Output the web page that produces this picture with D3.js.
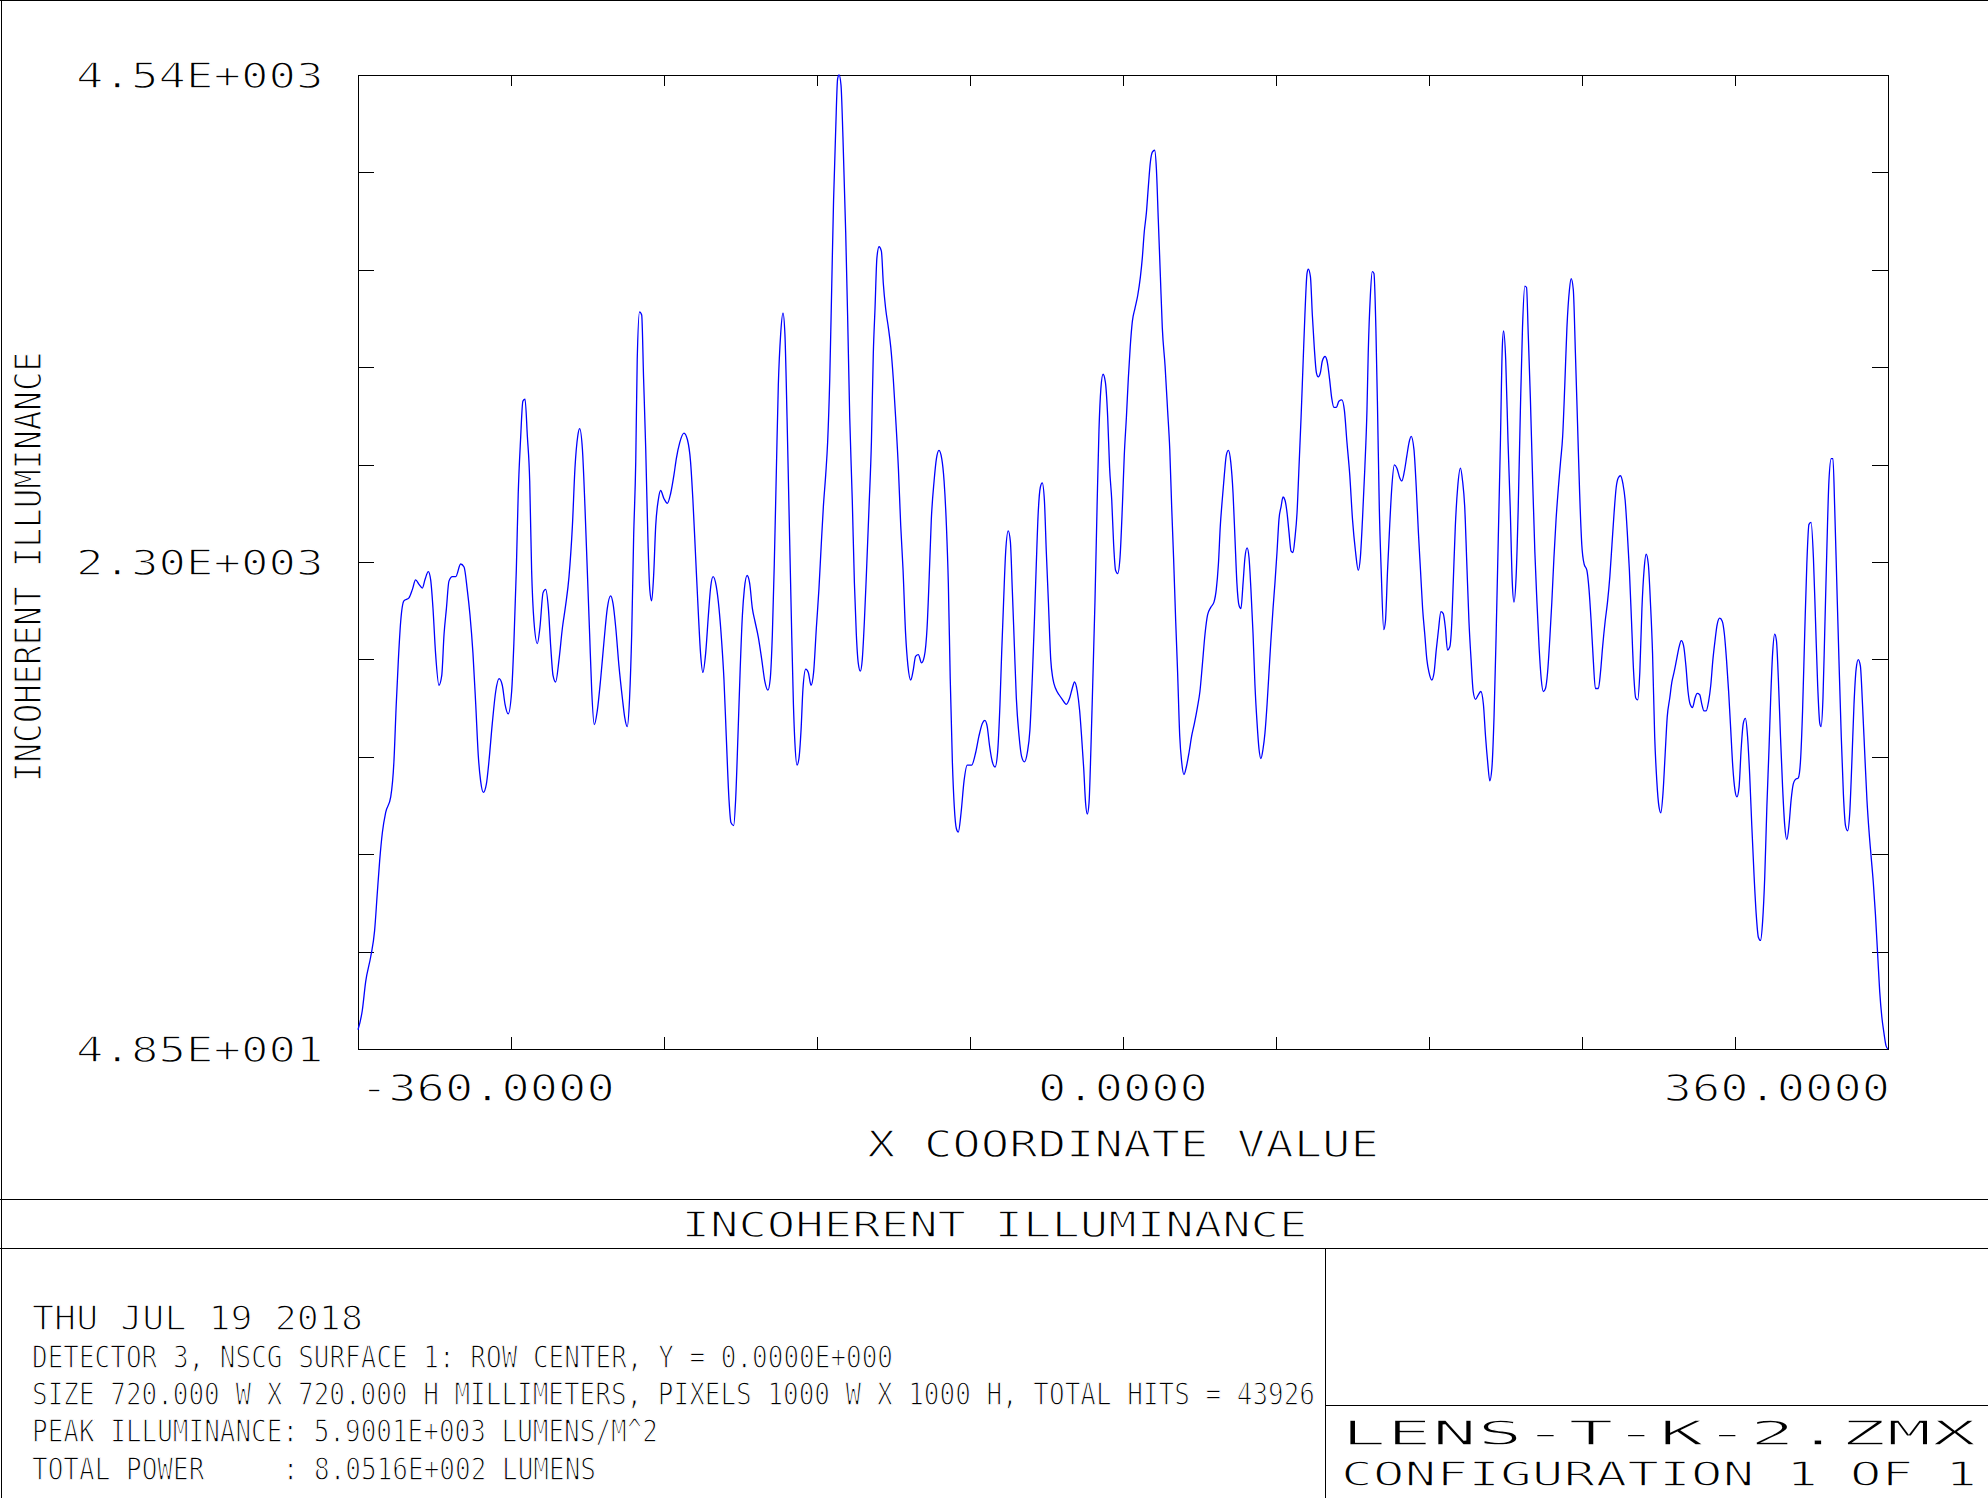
<!DOCTYPE html>
<html><head><meta charset="utf-8">
<script src="https://cdn.jsdelivr.net/npm/d3@7"></script>
<style>html,body{margin:0;padding:0;background:#fff;} svg{display:block;}</style>
</head><body>
<script>
// ---- data (X coordinate in mm, incoherent illuminance) ----
const xPos = [-360.0,-358.0,-356.4,-354.0,-352.2,-350.9,-349.8,-348.5,-347.0,-344.6,-343.1,-342.0,-341.0,-339.9,-338.4,-336.0,-334.4,-332.9,-331.3,-329.7,-328.5,-326.9,-325.8,-324.7,-323.5,-321.9,-320.6,-319.5,-318.4,-317.2,-315.6,-314.0,-311.7,-310.1,-308.6,-307.3,-305.9,-304.6,-303.4,-302.3,-301.0,-299.6,-298.4,-296.8,-295.2,-293.6,-292.1,-290.8,-289.3,-287.7,-286.6,-285.5,-284.6,-283.5,-282.4,-281.4,-280.3,-279.2,-278.3,-277.2,-275.6,-274.4,-272.9,-271.7,-270.4,-269.3,-268.2,-267.0,-265.4,-263.8,-262.3,-260.7,-259.1,-257.9,-256.6,-255.7,-254.4,-253.2,-252.1,-251.0,-250.0,-248.8,-247.4,-245.8,-244.2,-242.7,-241.1,-240.0,-238.7,-237.2,-235.6,-234.5,-233.3,-232.2,-231.2,-230.3,-229.3,-228.6,-227.5,-226.5,-225.6,-224.6,-223.5,-222.7,-221.8,-220.9,-219.9,-218.7,-217.6,-216.0,-214.4,-212.9,-211.3,-210.2,-208.6,-206.6,-205.0,-203.5,-202.4,-201.1,-199.8,-198.8,-197.7,-196.4,-195.1,-194.0,-192.9,-191.4,-190.1,-188.9,-187.8,-186.7,-185.4,-184.5,-183.2,-182.3,-181.2,-180.2,-179.1,-178.2,-176.9,-175.7,-174.4,-173.2,-171.6,-170.0,-168.5,-167.1,-166.0,-165.0,-164.1,-163.1,-162.2,-161.1,-160.0,-159.1,-158.1,-157.2,-156.1,-155.1,-154.4,-153.4,-152.5,-151.5,-150.6,-149.3,-148.1,-146.8,-145.6,-144.3,-143.1,-142.0,-141.0,-139.9,-139.0,-138.0,-137.1,-136.2,-135.2,-134.3,-133.6,-132.7,-131.8,-130.5,-129.6,-128.6,-127.4,-126.4,-125.5,-124.6,-123.6,-122.7,-121.7,-120.8,-119.5,-118.4,-117.5,-116.7,-115.8,-114.8,-113.7,-112.8,-111.7,-110.4,-109.3,-108.1,-107.0,-105.7,-104.6,-103.5,-102.3,-101.2,-99.9,-98.8,-97.6,-96.3,-94.8,-93.5,-92.2,-91.3,-90.2,-88.9,-87.8,-86.6,-85.3,-84.2,-83.1,-82.2,-81.3,-80.3,-79.4,-78.4,-77.5,-76.2,-74.8,-73.3,-71.2,-69.3,-67.8,-66.2,-65.0,-63.9,-62.8,-61.5,-60.2,-59.0,-57.9,-57.1,-56.2,-55.2,-54.0,-53.0,-52.1,-51.1,-50.2,-48.9,-47.7,-46.4,-45.0,-43.8,-42.7,-41.7,-40.8,-39.9,-38.9,-38.0,-37.0,-36.1,-35.1,-34.0,-33.0,-31.7,-30.1,-28.6,-26.7,-25.1,-23.9,-22.8,-21.5,-20.4,-19.5,-18.5,-17.6,-16.8,-16.0,-15.1,-14.1,-13.2,-12.2,-11.3,-10.4,-9.4,-8.3,-7.2,-6.3,-5.3,-4.4,-3.5,-2.5,-1.4,-0.3,0.6,1.6,2.5,3.4,4.4,5.6,6.9,8.2,9.1,10.0,11.0,11.9,12.9,13.8,14.9,15.7,16.6,17.6,18.5,19.8,21.0,22.0,22.9,23.8,24.8,25.7,26.7,27.6,28.7,29.8,31.1,32.3,33.6,35.0,36.2,37.3,38.6,39.8,41.3,42.8,43.9,44.9,45.8,46.7,47.7,48.6,49.6,50.7,51.8,52.7,53.6,54.6,55.5,56.5,57.4,58.4,59.3,60.2,61.2,62.1,63.1,64.0,64.9,65.9,66.8,67.8,68.7,69.6,70.6,71.5,72.5,73.4,74.4,75.3,76.2,77.2,78.1,79.1,80.0,80.9,81.9,82.8,83.8,84.7,85.6,86.6,87.2,88.2,89.1,90.0,91.0,91.9,92.9,93.8,95.1,96.2,97.2,98.2,99.3,100.4,101.6,103.0,104.2,105.4,106.7,108.0,109.4,110.7,111.7,112.7,113.8,114.8,115.4,116.4,117.3,118.1,119.0,119.8,120.6,121.5,122.7,123.5,124.5,125.5,126.5,127.7,128.9,130.2,131.2,132.4,133.6,134.6,135.6,136.9,138.0,139.0,140.0,141.0,142.0,143.0,144.0,145.3,146.4,147.4,148.4,149.6,150.7,151.7,152.7,153.8,154.6,155.4,156.4,157.5,158.8,159.8,160.8,161.8,162.8,163.8,164.8,165.9,167.2,168.4,169.6,170.6,171.6,172.6,173.6,174.6,175.6,176.6,177.6,178.5,179.1,180.1,181.2,182.2,183.2,184.0,185.0,186.0,187.0,188.0,189.1,189.9,190.7,191.7,192.7,193.8,194.8,195.8,196.8,197.8,198.8,199.8,200.8,201.8,202.8,203.8,204.9,205.9,206.9,207.9,208.9,210.1,210.9,211.9,212.9,213.9,214.9,215.9,217.0,218.3,219.3,220.3,221.3,222.3,223.7,224.7,225.7,226.9,228.0,229.1,230.1,231.1,232.1,233.1,234.1,235.3,236.3,237.3,238.3,239.3,240.3,241.3,242.2,243.2,244.2,245.2,246.2,247.2,248.2,249.2,250.2,251.2,252.2,253.1,254.1,255.1,256.1,257.3,258.3,259.3,260.5,261.7,262.7,263.8,264.9,265.9,266.9,268.0,269.2,270.2,271.4,272.4,273.4,274.4,275.6,276.6,277.6,278.6,279.6,280.8,282.0,283.0,284.0,285.0,286.0,287.0,288.0,288.9,289.9,290.9,291.9,292.9,293.9,294.9,295.9,297.0,298.0,299.0,300.0,301.0,302.0,303.0,304.0,304.8,305.7,306.7,307.5,308.4,309.4,310.4,311.4,312.4,313.4,314.4,315.4,316.4,317.8,318.8,319.8,320.8,321.8,322.8,323.8,324.9,325.9,326.9,327.9,328.5,329.4,330.2,331.2,332.2,333.3,334.1,334.9,335.9,337.0,338.0,339.0,340.0,341.0,342.0,343.0,344.0,345.0,346.0,347.0,348.0,349.1,350.1,351.1,352.1,353.1,354.1,355.1,356.1,357.1,358.1,359.1,360.0];
const illuminance = [137,225,358,475,593,770,917,1049,1138,1211,1373,1638,1844,2021,2115,2129,2168,2212,2191,2174,2212,2250,2212,2079,1873,1726,1770,1962,2079,2206,2227,2227,2285,2271,2168,2050,1873,1638,1402,1285,1232,1270,1373,1550,1697,1756,1726,1638,1594,1697,1932,2256,2609,2859,3036,3045,2874,2668,2256,2021,1918,1991,2153,2168,2079,1903,1770,1741,1844,1991,2094,2227,2462,2727,2874,2909,2815,2550,2256,1962,1697,1544,1608,1756,1932,2079,2138,2103,1991,1815,1667,1579,1535,1667,1962,2403,2756,3227,3448,3433,3139,2815,2374,2168,2115,2227,2462,2580,2624,2586,2565,2609,2697,2771,2845,2889,2859,2756,2580,2315,2050,1873,1785,1873,2050,2182,2227,2182,2079,1932,1756,1491,1196,1093,1079,1196,1491,1785,2050,2168,2232,2197,2079,2021,1947,1844,1741,1703,1756,1962,2285,2727,3110,3345,3442,3345,2962,2550,2050,1638,1461,1358,1388,1520,1711,1800,1785,1726,1785,1991,2168,2374,2550,2697,2845,3139,3551,3963,4287,4522,4540,4493,4257,3816,3433,2962,2580,2197,1962,1829,1791,1844,2021,2227,2550,2845,3257,3463,3698,3748,3728,3580,3463,3374,3286,3139,2962,2727,2462,2256,1962,1815,1750,1791,1859,1867,1829,1859,1991,2197,2491,2668,2771,2809,2771,2668,2462,2197,1756,1373,1167,1064,1049,1138,1285,1358,1358,1417,1491,1550,1564,1535,1447,1373,1349,1417,1638,1873,2109,2344,2438,2388,2168,1903,1667,1491,1397,1373,1417,1520,1756,2021,2285,2521,2639,2659,2580,2344,2109,1844,1756,1711,1682,1661,1638,1667,1711,1741,1697,1608,1491,1344,1182,1132,1182,1432,1785,2109,2550,2904,3095,3160,3124,2962,2727,2580,2374,2256,2241,2315,2550,2786,2962,3139,3286,3404,3463,3522,3610,3698,3816,3904,4022,4140,4184,4193,4110,3875,3610,3374,3198,2992,2815,2550,2315,2021,1785,1491,1373,1314,1349,1417,1491,1550,1623,1697,1815,1962,2050,2085,2109,2168,2285,2462,2580,2697,2786,2809,2756,2609,2403,2197,2094,2079,2197,2315,2359,2315,2168,1962,1726,1550,1432,1388,1432,1505,1638,1785,1932,2079,2197,2344,2491,2550,2594,2580,2521,2433,2344,2338,2403,2521,2727,2962,3198,3433,3625,3645,3610,3433,3286,3168,3148,3168,3221,3242,3213,3139,3051,3007,3007,3036,3042,2992,2845,2697,2491,2344,2256,2315,2491,2727,2992,3257,3522,3633,3625,3374,2992,2550,2256,1982,2021,2256,2462,2639,2742,2727,2683,2668,2712,2786,2845,2874,2815,2639,2433,2256,2079,1962,1844,1785,1750,1785,1888,1976,2065,2056,1991,1888,1903,1991,2197,2462,2639,2727,2668,2550,2285,2021,1844,1697,1661,1682,1697,1638,1491,1373,1285,1344,1579,1962,2403,2845,3286,3360,3227,2845,2550,2197,2109,2227,2550,2992,3374,3566,3560,3345,3051,2697,2344,2109,1903,1756,1697,1711,1785,1932,2109,2315,2491,2639,2756,2874,3110,3374,3551,3601,3551,3257,2933,2609,2374,2285,2256,2168,2021,1844,1711,1711,1785,1903,2021,2109,2227,2374,2521,2639,2683,2692,2653,2580,2433,2256,2021,1785,1667,1658,1785,2079,2256,2330,2285,2109,1873,1491,1285,1167,1138,1226,1402,1579,1667,1741,1785,1844,1903,1932,1909,1815,1697,1638,1623,1667,1688,1682,1638,1608,1608,1653,1726,1844,1932,2006,2035,2021,1962,1844,1697,1520,1344,1241,1211,1255,1432,1550,1573,1491,1314,1079,843,667,564,549,637,843,1167,1432,1667,1873,1962,1932,1756,1491,1255,1079,1014,1079,1196,1270,1291,1299,1373,1608,1962,2285,2468,2477,2315,2021,1726,1550,1535,1667,1962,2344,2668,2771,2771,2550,2197,1815,1491,1226,1079,1055,1138,1373,1638,1800,1844,1815,1638,1402,1196,1049,931,814,667,490,313,196,122,63,48.5];
const xDomain = [-360, 360];
const yDomain = [48.5, 4540];
const xTickValues = [-360, 0, 360];
const xTickLabels = ["-360.0000", "0.0000", "360.0000"];
const yTickValues = [48.5, 2294.25, 4540];
const yTickLabels = ["4.85E+001", "2.30E+003", "4.54E+003"];
const xAxisTitle = "X COORDINATE VALUE";
const yAxisTitle = "INCOHERENT ILLUMINANCE";
const plotTitle = "INCOHERENT ILLUMINANCE";
const dateLine = "THU JUL 19 2018";
const infoLines = [
  "DETECTOR 3, NSCG SURFACE 1: ROW CENTER, Y = 0.0000E+000",
  "SIZE 720.000 W X 720.000 H MILLIMETERS, PIXELS 1000 W X 1000 H, TOTAL HITS = 43926",
  "PEAK ILLUMINANCE: 5.9001E+003 LUMENS/M^2",
  "TOTAL POWER     : 8.0516E+002 LUMENS"
];
const fileLines = ["LENS-T-K-2.ZMX", "CONFIGURATION 1 OF 1"];

// ---- layout ----
const W = 1988, H = 1498;
const P = {left: 358, right: 1888, top: 75, bottom: 1049};
const FONT = "'DejaVu Sans Mono','Liberation Mono',monospace";

const svg = d3.select("body").append("svg").attr("width", W).attr("height", H);
svg.append("rect").attr("width", W).attr("height", H).attr("fill", "#fff");

const x = d3.scaleLinear().domain(xDomain).range([P.left, P.right]);
const y = d3.scaleLinear().domain(yDomain).range([P.bottom, P.top]);

// page frame lines
const frame = svg.append("g").attr("stroke", "#000").attr("stroke-width", 1).attr("fill", "none").attr("shape-rendering", "crispEdges");
frame.append("line").attr("x1", 0).attr("x2", W).attr("y1", 0.5).attr("y2", 0.5);
frame.append("line").attr("x1", 1.5).attr("x2", 1.5).attr("y1", 0).attr("y2", H);
frame.append("line").attr("x1", 0).attr("x2", W).attr("y1", 1199.5).attr("y2", 1199.5);
frame.append("line").attr("x1", 0).attr("x2", W).attr("y1", 1248.5).attr("y2", 1248.5);
frame.append("line").attr("x1", 1325.5).attr("x2", 1325.5).attr("y1", 1248.5).attr("y2", H);
frame.append("line").attr("x1", 1325.5).attr("x2", W).attr("y1", 1405.5).attr("y2", 1405.5);

// plot box
frame.append("rect").attr("x", P.left + 0.5).attr("y", P.top + 0.5)
  .attr("width", P.right - P.left).attr("height", P.bottom - P.top);

// minor ticks (10 divisions each way)
const xMinor = d3.range(11).map(i => xDomain[0] + i * (xDomain[1] - xDomain[0]) / 10);
const yMinor = d3.range(11).map(i => yDomain[0] + i * (yDomain[1] - yDomain[0]) / 10);
function styleAxis(g) {
  g.select(".domain").remove();
  g.selectAll("line").attr("stroke", "#000").attr("shape-rendering", "crispEdges");
  g.selectAll("text").remove();
}
svg.append("g").attr("transform", `translate(0,${P.bottom})`)
  .call(d3.axisBottom(x).tickValues(xMinor).tickSize(-12).tickFormat("")).call(styleAxis);
svg.append("g").attr("transform", `translate(0,${P.top})`)
  .call(d3.axisTop(x).tickValues(xMinor).tickSize(-11).tickFormat("")).call(styleAxis);
svg.append("g").attr("transform", `translate(${P.left},0)`)
  .call(d3.axisLeft(y).tickValues(yMinor).tickSize(-16).tickFormat("")).call(styleAxis);
svg.append("g").attr("transform", `translate(${P.right},0)`)
  .call(d3.axisRight(y).tickValues(yMinor).tickSize(-16).tickFormat("")).call(styleAxis);

// curve
const pts = xPos.map((v, i) => ({x: v, v: illuminance[i]}));
svg.append("path").datum(pts)
  .attr("fill", "none").attr("stroke", "#0000ff").attr("stroke-width", 1.3)
  .attr("d", d3.line().x(d => x(d.x)).y(d => y(d.v)).curve(d3.curveMonotoneX));

// text helper (fontSize in px; thin white stroke keeps glyphs light like the plotter font)
function txt(str, px, py, fs, len, anchor, rot) {
  const t = svg.append("text")
    .attr("font-family", FONT).attr("font-size", fs)
    .attr("fill", "#000").attr("stroke", "#fff").attr("stroke-width", 1.3)
    .attr("text-anchor", anchor || "start")
    .attr("textLength", len).attr("lengthAdjust", "spacingAndGlyphs")
    .attr("xml:space", "preserve").style("white-space", "pre")
    .text(str);
  if (rot) t.attr("transform", `translate(${px},${py}) rotate(${rot})`);
  else t.attr("x", px).attr("y", py);
  return t;
}

// y tick labels
yTickValues.forEach((v, i) => txt(yTickLabels[i], 76, y(v) + 13, 34.8, yTickLabels[i].length * 27.5, "start"));
// x tick labels
const xAnch = ["start", "middle", "end"];
xTickValues.forEach((v, i) => {
  const n = xTickLabels[i].length;
  txt(xTickLabels[i], x(v) + (i === 0 ? 2 : i === 2 ? 2 : 0), 1101, 37.4, n * 28.3, xAnch[i]);
});
// axis titles
txt(xAxisTitle, 1123, 1157, 36.6, 512, "middle");
txt(yAxisTitle, 41, 782, 37.6, 430, "start", -90);
// title bar
txt(plotTitle, 994.5, 1237, 36, 626, "middle");
// footer
txt(dateLine, 32, 1329.5, 33, 331, "start");
const infoLens = [861, 1283, 626, 564];
const infoBase = [1367.5, 1405, 1442.3, 1479.5];
infoLines.forEach((s, i) => txt(s, 32, infoBase[i], 31.4, infoLens[i], "start"));
// file box
txt(fileLines[0], 1341, 1445, 34.5, 636, "start");
txt(fileLines[1], 1341, 1486, 34.5, 636, "start");
</script>
</body></html>
